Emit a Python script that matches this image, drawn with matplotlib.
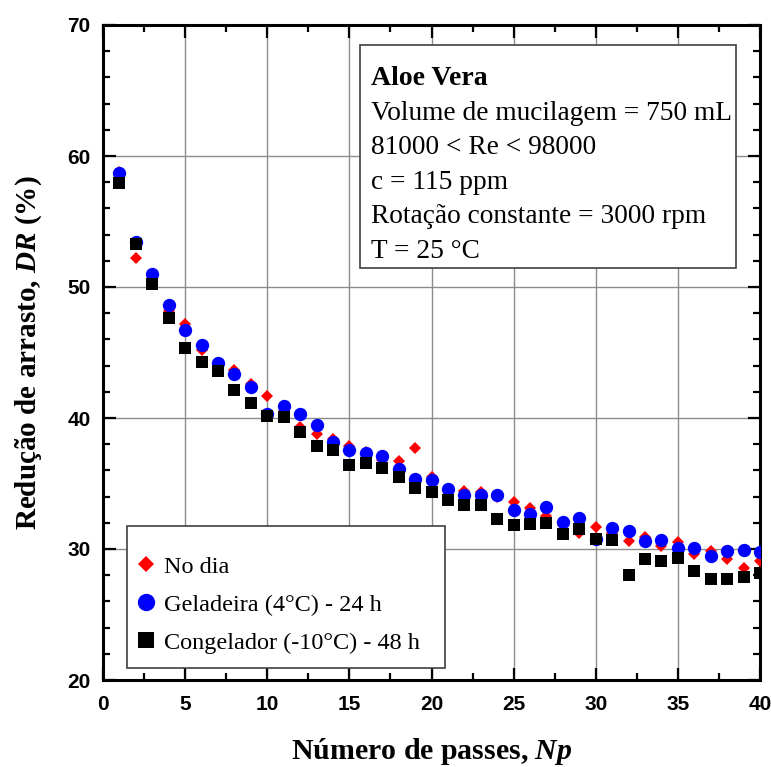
import matplotlib
matplotlib.use("Agg")
import matplotlib.pyplot as plt
from matplotlib.ticker import MultipleLocator
from matplotlib.patches import Rectangle

plt.rcParams['mathtext.fontset'] = 'custom'
plt.rcParams['mathtext.rm'] = 'Liberation Serif:bold'
plt.rcParams['mathtext.it'] = 'Liberation Serif:italic:bold'
plt.rcParams['mathtext.bf'] = 'Liberation Serif:bold'

passes = list(range(1, 41))

no_dia = [58.8, 52.2, 50.6, 48.2, 47.2, 45.2, 43.9, 43.7, 42.6, 41.7,
          40.5, 39.3, 38.8, 38.4, 37.9, 37.4, 36.8, 36.7, 37.7, 35.5,
          34.6, 34.4, 34.35, 34.0, 33.6, 33.1, 32.5, 31.8, 31.2, 31.7,
          31.2, 30.6, 30.9, 30.25, 30.5, 29.6, 29.87, 29.24, 28.55, 29.1]

geladeira = [58.7, 53.45, 51.0, 48.6, 46.75, 45.55, 44.2, 43.35, 42.37, 40.3,
             40.9, 40.32, 39.5, 38.17, 37.53, 37.35, 37.1, 36.1, 35.37, 35.24,
             34.6, 34.1, 34.1, 34.13, 33.0, 32.67, 33.23, 32.09, 32.4, 30.8,
             31.6, 31.4, 30.61, 30.69, 30.08, 30.05, 29.49, 29.87, 29.92, 29.8]

congelador = [57.97, 53.27, 50.2, 47.65, 45.33, 44.29, 43.62, 42.1, 41.13, 40.18,
              40.08, 38.92, 37.9, 37.53, 36.44, 36.56, 36.16, 35.5, 34.66, 34.33,
              33.77, 33.33, 33.38, 32.3, 31.85, 31.9, 31.96, 31.15, 31.5, 30.76,
              30.69, 28.04, 29.24, 29.06, 29.31, 28.3, 27.71, 27.71, 27.84, 28.14]

labels = ['No dia', 'Geladeira (4°C) - 24 h', 'Congelador (-10°C) - 48 h']

info_title = 'Aloe Vera'
info_lines = ['Volume de mucilagem = 750 mL',
              '81000 < Re < 98000',
              'c = 115 ppm',
              'Rotação constante = 3000 rpm',
              'T = 25 °C']

W, H = 771, 767
fig = plt.figure(figsize=(W / 100, H / 100), dpi=100)
ax = fig.add_axes([103 / W, 1 - 680 / H, 657 / W, 655 / H])

ax.plot(passes, no_dia, linestyle='none', marker='D', color='red', markersize=6.2,
        markeredgewidth=0, label=labels[0], zorder=3)
ax.plot(passes, geladeira, linestyle='none', marker='o', color='blue', markersize=9.6,
        markeredgewidth=0, label=labels[1], zorder=4)
ax.plot(passes, congelador, linestyle='none', marker='s', color='black', markersize=9.0,
        markeredgewidth=0, label=labels[2], zorder=5)

ax.set_xlim(0, 40)
ax.set_ylim(20, 70)
ax.xaxis.set_major_locator(MultipleLocator(5))
ax.xaxis.set_minor_locator(MultipleLocator(2.5))
ax.yaxis.set_major_locator(MultipleLocator(10))
ax.yaxis.set_minor_locator(MultipleLocator(2))
ax.grid(True, which='major', color='#8c8c8c', linewidth=1.0, zorder=0)
ax.set_axisbelow(True)

ax.tick_params(which='both', direction='in', top=True, right=True, width=1.6, color='black')
ax.tick_params(which='major', length=9)
ax.tick_params(which='minor', length=5)
ax.tick_params(axis='x', which='major', pad=11)
ax.tick_params(axis='y', which='major', pad=9)
for lab in ax.get_xticklabels() + ax.get_yticklabels():
    lab.set_fontfamily('Liberation Sans')
    lab.set_fontweight('bold')
    lab.set_fontsize(15)
for s in ax.spines.values():
    s.set_linewidth(2.2)

ax.set_xlabel(r'Número de passes, $\mathit{Np}$', fontfamily='Liberation Serif',
              fontweight='bold', fontsize=21.5)
ax.xaxis.label.set_va('baseline')
ax.xaxis.set_label_coords(0.5, (680 - 759) / 655)
ax.set_ylabel(r'Redução de arrasto, $\mathit{DR\ (\%)}$', fontfamily='Liberation Serif',
              fontweight='bold', fontsize=21)
ax.yaxis.label.set_va('baseline')
ax.yaxis.set_label_coords((36 - 103) / 657, 0.5)

# Info box
box = Rectangle((360 / W, 1 - 268 / H), (736 - 360) / W, (268 - 45) / H,
                transform=fig.transFigure, facecolor='white', edgecolor='#404040',
                linewidth=1.2, zorder=6)
fig.patches.append(box)
fig.text(371 / W, 1 - 85 / H, info_title, fontfamily='Liberation Serif', fontweight='bold',
         fontsize=20, va='baseline', ha='left', zorder=7)
for i, line in enumerate(info_lines):
    fig.text(371 / W, 1 - (120 + 34.4 * i) / H, line, fontfamily='Liberation Serif',
             fontsize=19.7, va='baseline', ha='left', zorder=7)

# Legend frame drawn separately
leg_frame = Rectangle(((127 - 103) / 657, (680 - 668) / 655), (445 - 127) / 657,
                      (668 - 526) / 655, transform=ax.transAxes, facecolor='white',
                      edgecolor='#404040', linewidth=1.2, zorder=7)
ax.add_patch(leg_frame)

leg = ax.legend(loc='lower left', bbox_to_anchor=((127 - 103) / 657, (680 - 671) / 655),
                borderaxespad=0, frameon=False,
                prop={'family': 'Liberation Serif', 'size': 17.5}, handlelength=0.2,
                handletextpad=0.62, labelspacing=0.66, borderpad=0.7, markerscale=1.3)
leg.set_zorder(8)

fig.savefig('out.png', dpi=100)
